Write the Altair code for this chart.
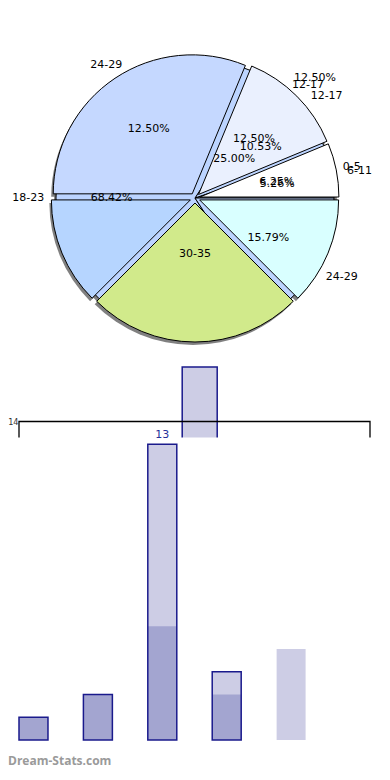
import math
import altair as alt
import pandas as pd

# ---------------- data ----------------
# Pie drawn underneath (shadowed)
pie_b_categories = ["6-11", "12-17", "18-23", "24-29"]
pie_b_values = [1, 2, 13, 3]
pie_b_outer = ["6-11", "12-17", "18-23", "24-29"]
pie_b_pct = ["5.26%", "10.53%", "68.42%", "15.79%"]

# Pie drawn on top (exploded)
pie_a_categories = ["0-5", "12-17", "18-23", "24-29", "30-35", "6-11"]
pie_a_values = [1, 2, 5, 2, 4, 2]
pie_a_outer = ["0-5", "12-17", "24-29", "", "", ""]
pie_a_pct = ["6.25%", "12.50%", "12.50%", "", "", ""]
pie_a_inner = ["", "25.00%", "", "", "30-35", ""]
pie_a_far = ["", "12.50%", "", "", "", ""]

# Bars
bar_categories = ["6-11", "12-17", "18-23", "24-29", "30-35"]
bar_light = [1, 2, 13, 3, 4]
bar_dark = [1, 2, 5, 2, None]
bar_outlined = [1, 2, 13, 3, None]
bar_labels = ["", "", "13", "", ""]
tall_category = ["24-29"]
tall_value = [16.4]
frame_level = 14
mask_level = 13.3
watermark = "Dream-Stats.com"

# ---------------- styles / layout ----------------
pie_a_colors = ["#ffffff", "#eaf0fe", "#c5d8ff", "#b6d5ff", "#d1ea8b", "#d9ffff"]
pie_b_color = "#bcd4ff"
light_col = "#cdcde5"
dark_col = "#a3a5d0"
navy = "#1a1a8c"
W, H = 351, 762
CX, CY, R = 176, 190, 139
EXPLODE = 5
Y0, UNIT = 732, 22.75
FONT = "DejaVu Sans"

theta_scale = alt.Scale(domain=[0, 1], range=[2.5 * math.pi, 0.5 * math.pi])


def pie_base(cats, vals, extra):
    df = pd.DataFrame({"i": list(range(len(cats))), "cat": cats, "value": vals, **extra})
    return (
        alt.Chart(df)
        .transform_joinaggregate(total="sum(value)")
        .transform_calculate(frac="datum.value / datum.total")
        .transform_window(cum="sum(frac)", sort=[alt.SortField("i")], frame=[None, 0])
        .transform_calculate(
            mid="datum.cum - datum.frac / 2",
            dx=f"{EXPLODE} * cos(2 * PI * datum.mid)",
            dy=f"-{EXPLODE} * sin(2 * PI * datum.mid)",
        )
    )


theta = alt.Theta("frac:Q", stack=True, scale=theta_scale)
order = alt.Order("i:Q")
xs = alt.X("dx:Q", scale=alt.Scale(domain=[-10, 10], range=[CX - 10, CX + 10]), axis=None)
ys = alt.Y("dy:Q", scale=alt.Scale(domain=[-10, 10], range=[CY - 10, CY + 10]), axis=None)

pa = pie_base(pie_a_categories, pie_a_values,
              {"outer": pie_a_outer, "pct": pie_a_pct, "inner": pie_a_inner, "far": pie_a_far})
pb = pie_base(pie_b_categories, pie_b_values, {"outer": pie_b_outer, "pct": pie_b_pct})

shadow_b = pb.mark_arc(radius=R, color="#6a6a6a", opacity=0.85).encode(
    theta=theta, order=order, x=alt.value(CX - 2), y=alt.value(CY + 3))
shadow_a = pa.mark_arc(radius=R, color="#6a6a6a", opacity=0.85, xOffset=-2, yOffset=3).encode(
    theta=theta, order=order, x=xs, y=ys)
arcs_b = pb.mark_arc(radius=R, stroke="black", strokeWidth=1, color=pie_b_color).encode(
    theta=theta, order=order, x=alt.value(CX), y=alt.value(CY))
arcs_a = pa.mark_arc(radius=R, stroke="black", strokeWidth=1).encode(
    theta=theta, order=order, x=xs, y=ys,
    color=alt.Color("cat:N", scale=alt.Scale(domain=pie_a_categories, range=pie_a_colors), legend=None))


def labels(base, field, radius):
    return base.mark_text(radius=radius, fontSize=11, font=FONT, color="black").encode(
        theta=theta, order=order, text=f"{field}:N", x=alt.value(CX), y=alt.value(CY))


pie = alt.layer(
    shadow_b, shadow_a, arcs_b, arcs_a,
    labels(pb, "pct", R * 0.6), labels(pb, "outer", R * 1.2),
    labels(pa, "pct", R * 0.6), labels(pa, "outer", R * 1.15),
    labels(pa, "inner", R * 0.4), labels(pa, "far", R * 1.22),
)

# ---------------- bars ----------------
xscale = alt.Scale(domain=bar_categories, range=[0, W], paddingInner=0.55, paddingOuter=0.5, align=0)
yscale = alt.Scale(domain=[0, frame_level], range=[Y0, Y0 - frame_level * UNIT])
bx = alt.X("cat:N", scale=xscale, axis=None)

bars_df = pd.DataFrame({"cat": bar_categories, "light": bar_light, "dark": bar_dark,
                        "outlined": bar_outlined, "lab": bar_labels})
tall_df = pd.DataFrame({"cat": tall_category, "v": tall_value})
one = pd.DataFrame({"t": [watermark]})

tall = alt.Chart(tall_df).mark_bar(width=35, xOffset=-27, color=light_col, stroke=navy,
                                   strokeWidth=1.5).encode(
    x=bx,
    y=alt.Y("v:Q", scale=yscale,
            axis=alt.Axis(values=[frame_level], format="d", domain=False, ticks=False, grid=False,
                          labelFontSize=9, labelFont="DejaVu Sans Condensed", labelColor="#333333",
                          labelPadding=1, title=None)))
frame = alt.Chart(one).mark_rect(fillOpacity=0, stroke="black", strokeWidth=1.3).encode(
    x=alt.value(0), x2=alt.value(W), y=alt.datum(frame_level, scale=yscale), y2=alt.datum(0))
mask = alt.Chart(one).mark_rect(color="white").encode(
    x=alt.value(-3), x2=alt.value(W + 3), y=alt.datum(mask_level, scale=yscale), y2=alt.datum(-1))
light = alt.Chart(bars_df).mark_bar(color=light_col).encode(x=bx, y=alt.Y("light:Q", scale=yscale))
dark = alt.Chart(bars_df).mark_bar(color=dark_col).encode(x=bx, y=alt.Y("dark:Q", scale=yscale))
outline = alt.Chart(bars_df).mark_bar(fillOpacity=0, stroke=navy, strokeWidth=1.5).encode(
    x=bx, y=alt.Y("outlined:Q", scale=yscale))
lab = alt.Chart(bars_df).mark_text(dy=-9, fontSize=11, font=FONT, color="#25309a").encode(
    x=bx, y=alt.Y("outlined:Q", scale=yscale), text="lab:N")
wm = alt.Chart(one).mark_text(align="left", fontSize=12, font="Open Sans", fontWeight="bold",
                              color="#9a9a9a").encode(
    x=alt.value(-11), y=alt.value(753), text="t:N")

bars = alt.layer(tall, frame, mask, light, dark, outline, lab, wm)

chart = (
    alt.layer(pie, bars)
    .resolve_scale(x="independent", y="independent")
    .properties(width=W, height=H,
                padding={"left": 11, "right": 12, "top": 0, "bottom": 0},
                autosize=alt.AutoSizeParams(type="none"))
    .configure_view(stroke=None)
)

chart.save("out.html", embed_options={"renderer": "svg", "actions": False})
